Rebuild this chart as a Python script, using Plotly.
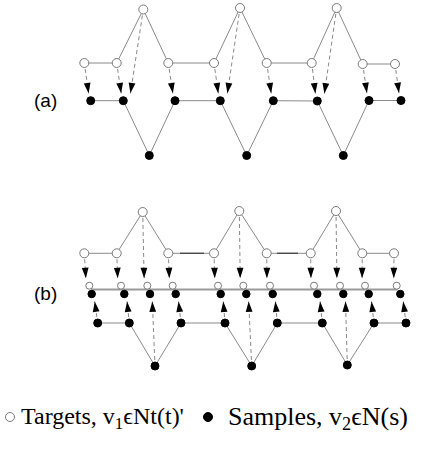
import numpy as np
import plotly.graph_objects as go

# ---- node coordinates (diagram units: x to the right, y downward) ----
# panel (a)
a_target_mid_x = [84.3, 116.7, 168.3, 214.0, 266.7, 311.7, 362.7, 395.0]
a_target_mid_y = [63, 63, 63, 63, 63, 63, 64, 64]
a_target_top_x = [143.3, 240.0, 336.7]
a_target_top_y = [9.5, 8, 8]
a_sample_mid_x = [90.7, 123.3, 175.0, 220.3, 273.3, 317.3, 369.0, 401.0]
a_sample_mid_y = [100.7, 100.7, 100.7, 100.7, 100.7, 101, 100.5, 100.5]
a_sample_bot_x = [149.3, 246.7, 343.3]
a_sample_bot_y = [155.5, 155.5, 155.5]

# panel (b)
b_target_mid_x = [84.3, 116.7, 168.3, 214.0, 266.7, 310.7, 362.3, 394.0]
b_target_mid_y = [253.3] * 8
b_target_top_x = [142.7, 239.3, 336.0]
b_target_top_y = [212, 211, 211]
b_target_row_x = [89.3, 121.0, 147.3, 172.7, 218.0, 243.3, 270.0, 314.0, 340.0, 365.0, 396.7]
b_target_row_y = [285.7] * 11
b_sample_row_x = [91.7, 124.3, 150.0, 175.7, 220.7, 246.3, 272.7, 317.3, 343.3, 368.7, 400.3]
b_sample_row_y = [294.0] * 11
b_sample_mid_x = [97.7, 129.3, 181.0, 225.0, 277.3, 322.3, 374.0, 406.0]
b_sample_mid_y = [323.0] * 8
b_sample_bot_x = [155.0, 251.7, 347.3]
b_sample_bot_y = [366, 366, 365]

panel_labels = ["(a)", "(b)"]
panel_label_y = [100, 293]
legend_texts = ["Targets, v<sub>1</sub>\u03f5Nt(t)'", "Samples, v<sub>2</sub>\u03f5N(s)"]

LINE = "#8a8a8a"
DASH = "#8a8a8a"

fig = go.Figure()


def zigzag(mid_x, mid_y, top_x, top_y):
    """Order nodes as pair, peak, pair, peak, ... pair."""
    xs, ys = [], []
    for k in range(len(top_x) + 1):
        xs += mid_x[2 * k:2 * k + 2]
        ys += mid_y[2 * k:2 * k + 2]
        if k < len(top_x):
            xs.append(top_x[k])
            ys.append(top_y[k])
    return xs, ys


def solid(xs, ys, color=LINE, width=1):
    fig.add_trace(go.Scatter(x=xs, y=ys, mode="lines", hoverinfo="skip",
                             line=dict(color=color, width=width)))


def nodes(xs, ys, filled, size):
    fig.add_trace(go.Scatter(
        x=xs, y=ys, mode="markers", hoverinfo="skip",
        marker=dict(size=size, symbol="circle",
                    color="black" if filled else "white",
                    line=dict(color="black" if filled else "#7a7a7a", width=1))))


arrow_lx, arrow_ly, head_x, head_y, head_ang = [], [], [], [], []


def arrow(sx, sy, tx, ty, aim_dx, r_src, gap):
    tx = tx + aim_dx
    d = np.array([tx - sx, ty - sy], dtype=float)
    d /= np.hypot(*d)
    p0 = np.array([sx, sy]) + d * r_src
    p1 = np.array([tx, ty]) - d * gap
    arrow_lx.extend([p0[0], p1[0], None])
    arrow_ly.extend([p0[1], p1[1], None])
    head_x.append(p1[0])
    head_y.append(p1[1])
    head_ang.append(np.degrees(np.arctan2(d[0], -d[1])))


# ---- panel (a) ----
ox, oy = zigzag(a_target_mid_x, a_target_mid_y, a_target_top_x, a_target_top_y)
sx_, sy_ = zigzag(a_sample_mid_x, a_sample_mid_y, a_sample_bot_x, a_sample_bot_y)
solid(ox, oy)
solid(sx_, sy_)
for i in range(8):
    arrow(a_target_mid_x[i], a_target_mid_y[i], a_sample_mid_x[i], a_sample_mid_y[i], -1.0, 6, 7.5)
for k in range(3):
    arrow(a_target_top_x[k], a_target_top_y[k], a_sample_mid_x[2 * k + 1], a_sample_mid_y[2 * k + 1], 6.0, 6, 7.5)

# ---- panel (b) ----
ox, oy = zigzag(b_target_mid_x, b_target_mid_y, b_target_top_x, b_target_top_y)
sx_, sy_ = zigzag(b_sample_mid_x, b_sample_mid_y, b_sample_bot_x, b_sample_bot_y)
solid(ox, oy)
solid(sx_, sy_)
# darker stretches on the flat target links
solid([180, 204], [253.3, 253.3], color="#444444", width=1.3)
solid([277, 298], [253.3, 253.3], color="#444444", width=1.3)
# shared baseline through the matched row
solid([b_target_row_x[0] + 2, b_target_row_x[-1] + 1], [289.5, 289.5], color="#9a9a9a", width=2)

# upper targets -> matched target row (order follows the zigzag)
for j in range(11):
    arrow(ox[j], oy[j], b_target_row_x[j], b_target_row_y[j], -3.0, 6, 7.5)
# lower samples -> matched sample row
for j in range(11):
    arrow(sx_[j], sy_[j], b_sample_row_x[j], b_sample_row_y[j], 2.0, 6, 7.5)

fig.add_trace(go.Scatter(x=arrow_lx, y=arrow_ly, mode="lines", hoverinfo="skip",
                         line=dict(color=DASH, width=1, dash="4px,3px")))
fig.add_trace(go.Scatter(x=head_x, y=head_y, mode="markers", hoverinfo="skip",
                         marker=dict(symbol="arrow", size=11, angle=head_ang,
                                     color="black", line=dict(width=0))))

# nodes on top of lines
nodes(a_target_mid_x, a_target_mid_y, False, 9)
nodes(a_target_top_x, a_target_top_y, False, 9)
nodes(a_sample_mid_x, a_sample_mid_y, True, 8)
nodes(a_sample_bot_x, a_sample_bot_y, True, 8)
nodes(b_target_mid_x, b_target_mid_y, False, 9)
nodes(b_target_top_x, b_target_top_y, False, 9)
nodes(b_target_row_x, b_target_row_y, False, 7)
nodes(b_sample_row_x, b_sample_row_y, True, 7.5)
nodes(b_sample_mid_x, b_sample_mid_y, True, 8)
nodes(b_sample_bot_x, b_sample_bot_y, True, 8)

# legend symbols
nodes([10], [417], False, 9)
nodes([208], [417], True, 9)

for lab, ly in zip(panel_labels, panel_label_y):
    fig.add_annotation(x=45, y=ly, text=lab, showarrow=False, xanchor="center", yanchor="middle",
                       font=dict(family="Liberation Sans, Arial, sans-serif", size=19, color="black"))

fig.add_annotation(x=19, y=418, text=legend_texts[0], showarrow=False, xanchor="left", yanchor="middle",
                   font=dict(family="Liberation Serif, Times New Roman, serif", size=24, color="black"))
fig.add_annotation(x=226, y=418, text=legend_texts[1], showarrow=False, xanchor="left", yanchor="middle",
                   font=dict(family="Liberation Serif, Times New Roman, serif", size=26, color="black"))

fig.update_layout(
    width=443, height=453, margin=dict(l=0, r=0, t=0, b=0),
    paper_bgcolor="white", plot_bgcolor="white", showlegend=False,
    xaxis=dict(range=[0, 443], visible=False, fixedrange=True),
    yaxis=dict(range=[453, 0], visible=False, fixedrange=True),
)

fig.write_html("out.html")
